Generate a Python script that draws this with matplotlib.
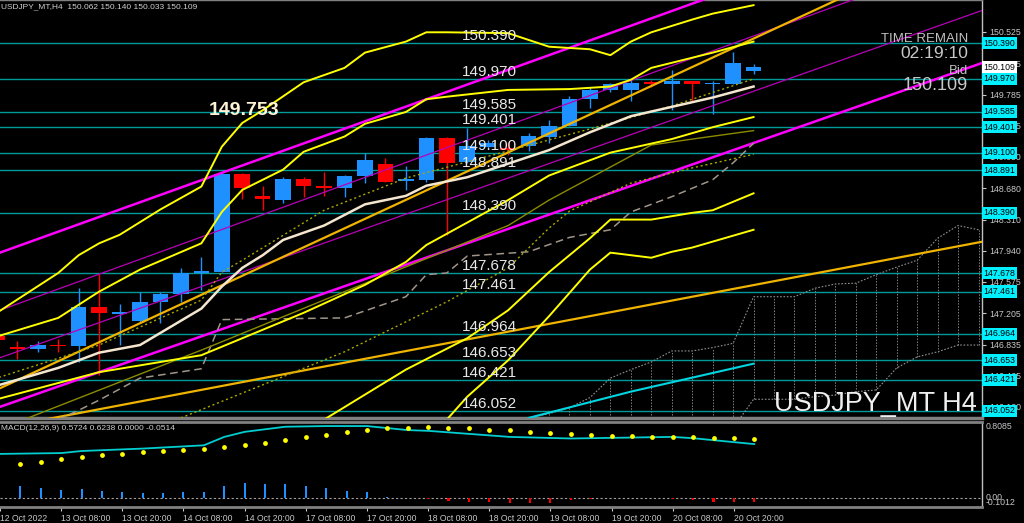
import numpy as np
import matplotlib.pyplot as plt

plt.rcParams['font.family'] = ['Liberation Sans', 'DejaVu Sans']

# H4 candles, bar 0 = 13 Oct 00:00
bars = list(range(-1, 37))
opens = [146.940, 146.811, 146.780, 146.827, 146.819, 147.282, 147.196, 147.114, 147.334, 147.429,
         147.680, 147.692, 148.848, 148.589, 148.538, 148.789, 148.710, 148.683, 148.828, 148.963,
         148.769, 148.777, 149.276, 148.986, 149.170, 149.155, 149.178, 149.288, 149.414, 149.733,
         149.839, 149.839, 149.937, 149.906, 149.945, 149.906, 149.910, 150.062]
highs = [146.972, 146.878, 146.878, 146.901, 147.507, 147.665, 147.311, 147.452, 147.452, 147.743,
         147.872, 148.872, 148.860, 148.710, 148.813, 148.813, 148.875, 148.836, 149.092, 149.037,
         148.943, 149.288, 149.288, 149.387, 149.249, 149.229, 149.328, 149.485, 149.772, 149.871,
         149.925, 149.957, 149.957, 150.075, 149.945, 149.949, 150.291, 150.140]
lows = [146.854, 146.665, 146.752, 146.744, 146.627, 146.477, 146.831, 147.106, 147.087, 147.342,
        147.480, 147.692, 148.553, 148.423, 148.506, 148.580, 148.592, 148.577, 148.738, 148.757,
        148.659, 148.754, 148.128, 148.978, 149.155, 149.072, 149.120, 149.210, 149.414, 149.623,
        149.812, 149.709, 149.871, 149.603, 149.701, 149.552, 149.910, 150.033]
closes = [146.890, 146.780, 146.831, 146.815, 147.275, 147.205, 147.212, 147.334, 147.429, 147.684,
          147.700, 148.848, 148.686, 148.550, 148.789, 148.707, 148.686, 148.828, 149.017, 148.757,
          148.789, 149.276, 148.981, 149.182, 149.217, 149.131, 149.296, 149.418, 149.733, 149.839,
          149.906, 149.918, 149.906, 149.945, 149.906, 149.918, 150.154, 150.109]

# horizontal levels
levels = [150.390, 149.970, 149.585, 149.401, 149.100, 148.891, 148.390,
          147.678, 147.461, 146.964, 146.653, 146.421, 146.052]
price_ticks = [150.525, 150.155, 149.785, 149.415, 149.050, 148.680, 148.310,
               147.940, 147.575, 147.205, 146.835, 146.465, 146.100]
bid = 150.109

time_ticks = list(range(-1, 36, 3))
time_labels = ["12 Oct 2022", "13 Oct 08:00", "13 Oct 20:00", "14 Oct 08:00", "14 Oct 20:00",
               "17 Oct 08:00", "17 Oct 20:00", "18 Oct 08:00", "18 Oct 20:00", "19 Oct 08:00",
               "19 Oct 20:00", "20 Oct 08:00", "20 Oct 20:00"]

# indicator lines (bar, price)
ma_k = [-1, 2, 4, 6, 9, 10, 11, 12, 13, 15, 17, 19, 20, 22, 24, 26, 28, 30, 32, 34, 36]
ma_p = [146.35, 146.56, 146.74, 146.83, 147.26, 147.52, 147.74, 147.89, 148.07, 148.24, 148.49,
        148.59, 148.71, 148.81, 148.97, 149.13, 149.34, 149.53, 149.64, 149.75, 149.88]

band_a_k = [-1, 2, 3, 4, 5, 6, 7, 9, 10, 11, 12, 14, 16, 17, 19, 20, 21, 24, 26, 28, 29, 30, 31, 33, 34, 36]
band_a_p = [147.21, 147.68, 147.89, 148.03, 148.13, 148.28, 148.43, 148.70, 149.17, 149.45, 149.60,
            149.93, 150.10, 150.28, 150.41, 150.52, 150.52, 150.51, 150.35, 150.32, 150.25, 150.41,
            150.52, 150.67, 150.74, 150.84]
band_b_k = [-1, 2, 4, 6, 9, 10, 11, 13, 14, 16, 17, 19, 20, 21, 24, 27, 29, 30, 31, 33, 34, 36]
band_b_p = [146.93, 147.15, 147.46, 147.72, 148.03, 148.40, 148.66, 148.90, 149.11, 149.29, 149.44,
            149.58, 149.73, 149.76, 149.84, 149.85, 149.88, 149.96, 150.10, 150.22, 150.28, 150.41]
band_c_k = [-1, 4, 9, 11, 14, 17, 19, 20, 24, 26, 28, 29, 32, 34, 36]
band_c_p = [146.19, 146.51, 146.71, 146.91, 147.21, 147.54, 147.81, 148.01, 148.54, 148.83,
            149.01, 149.10, 149.26, 149.40, 149.52]
band_d_k = [15, 19, 22, 24, 26, 28, 29, 31, 33, 34, 36]
band_d_p = [145.95, 146.54, 146.91, 147.24, 147.69, 148.09, 148.31, 148.31, 148.39, 148.42, 148.62]
band_e_k = [21, 22, 24, 26, 28, 29, 31, 32, 33, 36]
band_e_p = [145.95, 146.22, 146.65, 147.17, 147.72, 147.92, 147.86, 147.93, 147.98, 148.19]

olive_k = [0, 9, 16, 24, 26, 28, 31, 33, 36]
olive_p = [145.92, 146.77, 147.46, 148.24, 148.54, 148.80, 149.19, 149.26, 149.36]
dot_hi_k = [-1, 4, 9, 10, 11, 15, 19, 24, 28, 32, 36]
dot_hi_p = [146.44, 146.83, 147.36, 147.69, 147.83, 148.42, 148.80, 149.12, 149.38, 149.65, 149.97]
dot_lo_k = [8, 16, 21, 24, 26, 27, 30, 33, 36]
dot_lo_p = [145.97, 146.75, 147.34, 147.74, 148.21, 148.41, 148.74, 148.92, 149.08]
kijun_k = [2, 3, 4, 6, 9, 10, 16, 19, 20, 21, 22, 25, 27, 29, 30, 32, 34, 35, 36]
kijun_p = [145.95, 146.06, 146.18, 146.44, 146.55, 147.13, 147.15, 147.40, 147.66, 147.68, 147.88,
           147.93, 148.10, 148.19, 148.40, 148.58, 148.78, 148.98, 149.21]
cyan_k = [25, 30, 36]
cyan_p = [145.97, 146.28, 146.61]

span_a_k = list(range(25, 48))
span_a_p = [145.97, 146.02, 146.09, 146.21, 146.44, 146.54, 146.63, 146.76, 146.76, 146.80, 146.85,
            147.40, 147.40, 147.40, 147.50, 147.55, 147.56, 147.66, 147.75, 147.83, 148.09, 148.24, 148.19]
span_b_k = list(range(35, 48))
span_b_p = [145.85, 146.19, 146.19, 146.19, 146.22, 146.24, 146.28, 146.30, 146.56, 146.69,
            146.75, 146.83, 146.83]

# straight trend / channel lines
trend_k = [-0.85, 47.2]
gold_hi = [146.32, 151.70]
gold_lo = [145.85, 148.05]
mag_hi = [147.92, 152.09]
mag_lo = [146.10, 150.16]
thin_a = [146.68, 150.78]
thin_b = [147.24, 151.46]

# MACD panel
macd_k = [-1, 2, 3, 6, 9, 10, 11, 13, 15, 17, 19, 20, 24, 27, 32, 33, 34, 36]
macd_v = [0.467, 0.476, 0.498, 0.524, 0.559, 0.649, 0.703, 0.758, 0.765, 0.765, 0.722, 0.714,
          0.649, 0.632, 0.649, 0.635, 0.614, 0.572]
sig_k = list(range(0, 37))
sig_v = [0.354, 0.379, 0.408, 0.430, 0.451, 0.470, 0.487, 0.498, 0.505, 0.516,
         0.541, 0.567, 0.589, 0.614, 0.643, 0.671, 0.697, 0.719, 0.740, 0.747,
         0.758, 0.747, 0.740, 0.725, 0.719, 0.703, 0.689, 0.678, 0.671, 0.664,
         0.660, 0.653, 0.649, 0.643, 0.638, 0.632, 0.624]
hist_v = [0.119, 0.101, 0.079, 0.090, 0.072, 0.061, 0.047, 0.047, 0.054, 0.054,
          0.126, 0.155, 0.148, 0.148, 0.126, 0.101, 0.072, 0.054, 0.011,
          -0.004, -0.018, -0.036, -0.043, -0.051, -0.054, -0.054, -0.054, -0.029, -0.011,
          -0.007, -0.004, -0.007, -0.014, -0.029, -0.043, -0.043, -0.051]

W, H = 1024, 523
fig = plt.figure(figsize=(W / 100, H / 100), dpi=100, facecolor='black')
ax = fig.add_axes([0, 1 - 418 / H, 982 / W, 418 / H], facecolor='black')
ax2 = fig.add_axes([0, 1 - 507 / H, 982 / W, 85 / H], facecolor='black')

xlim = (-0.846, 47.17)
ax.set_xlim(xlim)
ax.set_ylim(145.969, 150.901)
ax2.set_xlim(xlim)
ax2.set_ylim(-0.1012, 0.8085)

# levels
for v in levels:
    ax.axhline(v, color='#009A9A', lw=1, zorder=1)

# candles
blue, red = '#1E90FF', '#FF0000'
cols = [blue if c >= o else red for o, c in zip(opens, closes)]
ax.vlines(bars, lows, highs, colors=cols, lw=1, zorder=2)
bottoms = [min(o, c) for o, c in zip(opens, closes)]
heights = [max(abs(c - o), 0.018) for o, c in zip(opens, closes)]
ax.bar(bars, heights, bottom=bottoms, width=0.76, color=cols, zorder=2.1)

# channel / trend lines
ax.plot(trend_k, thin_a, color='#B800B8', lw=0.9, zorder=3)
ax.plot(trend_k, thin_b, color='#B800B8', lw=0.9, zorder=3)
ax.plot(trend_k, mag_hi, color='#FF00FF', lw=1.8, zorder=3)
ax.plot(trend_k, mag_lo, color='#FF00FF', lw=1.8, zorder=3)
ax.plot(trend_k, gold_hi, color='#F0B400', lw=1.6, zorder=3)
ax.plot(trend_k, gold_lo, color='#F0B400', lw=1.6, zorder=3)

# ichimoku-like cloud
ax.plot(span_a_k, span_a_p, color='#909090', lw=0.8, ls=(0, (1.5, 1.5)), zorder=2)
ax.plot(span_b_k, span_b_p, color='#909090', lw=0.8, ls=(0, (1.5, 1.5)), zorder=2)
span_b = dict(zip(span_b_k, span_b_p))
for k, p in zip(span_a_k, span_a_p):
    if k > 25:
        ax.plot([k, k], [span_b.get(k, 145.969), p], color='#808080', lw=0.7,
                ls=(0, (1.5, 1.5)), zorder=2)

ax.plot(kijun_k, kijun_p, color='#A09588', lw=1.1, ls=(0, (5, 3)), zorder=3)
ax.plot(cyan_k, cyan_p, color='#00D5E0', lw=1.5, zorder=3)
ax.plot(olive_k, olive_p, color='#8B8B00', lw=1, zorder=3)
ax.plot(dot_hi_k, dot_hi_p, color='#A8A800', lw=1, ls=(0, (1.5, 2)), zorder=3)
ax.plot(dot_lo_k, dot_lo_p, color='#A8A800', lw=1, ls=(0, (1.5, 2)), zorder=3)
for kk, pp in [(band_a_k, band_a_p), (band_b_k, band_b_p), (band_c_k, band_c_p),
               (band_d_k, band_d_p), (band_e_k, band_e_p)]:
    ax.plot(kk, pp, color='#FFFF00', lw=1.4, zorder=3)
ax.plot(ma_k, ma_p, color='#F5E6CF', lw=1.8, zorder=3)

# level labels
ytr = ax.get_yaxis_transform()
for v in levels:
    ax.text(0.4705, v, f"{v:.3f}", transform=ytr, color='#E8E8E8', fontsize=11,
            ha='left', va='bottom', zorder=5)
ax.text(9.37, 149.544, "149.753", color='#FFF3D6', fontsize=14, weight='bold',
        ha='left', va='baseline', zorder=5)

# right price axis
ax.yaxis.tick_right()
ax.set_yticks(price_ticks)
ax.set_yticklabels([f"{v:.3f}" for v in price_ticks])
ax.tick_params(axis='y', colors='#C8C8C8', labelsize=6.3, length=3, width=0.8, pad=2)
ax.set_xticks([])
for v in levels:
    ax.text(1.0012, v, f"{v:.3f}", transform=ytr, fontsize=6.3, color='black', ha='left',
            va='center', clip_on=False, zorder=6,
            bbox=dict(boxstyle='square,pad=0.18', fc='#00F0FF', ec='none'))
ax.text(1.0012, bid, f"{bid:.3f}", transform=ytr, fontsize=6.3, color='black', ha='left',
        va='center', clip_on=False, zorder=6,
        bbox=dict(boxstyle='square,pad=0.18', fc='white', ec='none'))

# info texts
ax.text(0.001, 0.983, "USDJPY_MT,H4  150.062 150.140 150.033 150.109", transform=ax.transAxes,
        color='#D0D0D0', fontsize=6, ha='left', va='center')
rx = 968 / 982
ax.text(rx, 1 - 39 / 418, "TIME REMAIN", transform=ax.transAxes, color='#C0C0C0',
        fontsize=9.5, ha='right', va='center', zorder=5)
ax.text(rx, 1 - 53.5 / 418, "02:19:10", transform=ax.transAxes, color='#C8C8C8',
        fontsize=12.5, ha='right', va='center', zorder=5)
ax.text(rx, 1 - 71 / 418, "Bid", transform=ax.transAxes, color='#C0C0C0',
        fontsize=9.5, ha='right', va='center', zorder=5)
ax.text(rx, 1 - 85 / 418, "150.109", transform=ax.transAxes, color='#C8C8C8',
        fontsize=13, ha='right', va='center', zorder=5)
ax.text(0.995, 1 - 404 / 418, "USDJPY_MT H4", transform=ax.transAxes, color='#F0F0F0',
        fontsize=19.5, ha='right', va='center', zorder=5)

# MACD
hist_cols = [blue if v > 0 else red for v in hist_v]
ax2.bar(sig_k, hist_v, width=0.1, color=hist_cols, zorder=2)
ax2.axhline(0, color='#A0A0A0', lw=0.8, ls=(0, (2, 2)), zorder=1)
ax2.plot(macd_k, macd_v, color='#00CED1', lw=1.3, zorder=3)
ax2.scatter(sig_k, sig_v, s=12, color='#FFFF00', zorder=4, linewidths=0)
ax2.text(0.001, 1 - 6 / 85, "MACD(12,26,9) 0.5724 0.6238 0.0000 -0.0514", transform=ax2.transAxes,
         color='#D0D0D0', fontsize=6, ha='left', va='center')
ytr2 = ax2.get_yaxis_transform()
ax2.text(1.004, 0.8085, "0.8085", transform=ytr2, color='#C8C8C8', fontsize=6.3,
         ha='left', va='top', clip_on=False)
ax2.text(1.004, 0.0, "0.00", transform=ytr2, color='#C8C8C8', fontsize=6.3,
         ha='left', va='center', clip_on=False)
ax2.text(1.004, -0.1012, "-0.1012", transform=ytr2, color='#C8C8C8', fontsize=6.3,
         ha='left', va='bottom', clip_on=False)
ax2.set_yticks([])
ax2.set_xticks(time_ticks)
ax2.set_xticklabels(time_labels, ha='left')
ax2.tick_params(axis='x', colors='#C8C8C8', labelsize=6.2, length=3, width=0.8, pad=2)

for a in (ax, ax2):
    a.spines['left'].set_visible(False)
    a.spines['right'].set_color('#C0C0C0')
    a.spines['right'].set_linewidth(1)
ax.spines['top'].set_color('#808080')
ax.spines['top'].set_linewidth(1)
ax.spines['bottom'].set_color('#808080')
ax.spines['bottom'].set_linewidth(2.5)
ax2.spines['top'].set_color('#808080')
ax2.spines['top'].set_linewidth(2)
ax2.spines['bottom'].set_color('#808080')
ax2.spines['bottom'].set_linewidth(2)

fig.savefig('out.png', dpi=100, facecolor='black')
